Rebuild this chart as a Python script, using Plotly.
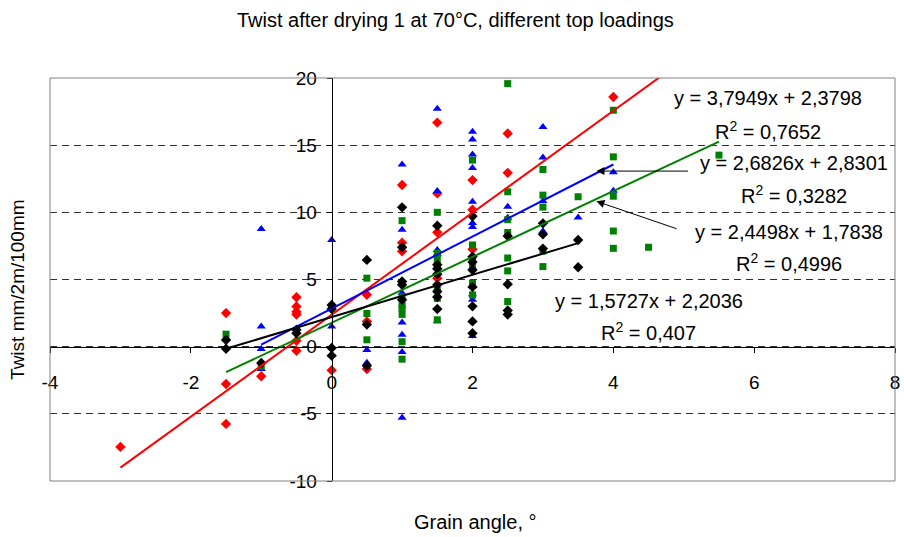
import numpy as np
import plotly.graph_objects as go

# ---------------- data ----------------
red_x = [-3, -1.5, -1.5, -1.5, -1, -0.5, -0.5, -0.5, -0.5, -0.5, -0.5, 0, 0.5, 0.5, 0.5,
         1, 1, 1, 1.5, 1.5, 1.5, 1.5, 2, 2, 2, 2.5, 2.5, 4]
red_y = [-7.46, 2.5, -2.78, -5.75, -2.2, 3.68, 2.99, 2.6, 2.4, 0.44, -0.3, -1.76, 3.86, 1.88, -1.67,
         12.03, 7.74, 7.1, 16.68, 11.41, 8.51, 5.1, 12.4, 10.2, 7.25, 15.87, 12.94, 18.59]

blue_x = [-1, -1, -1, -1, 0, 0, 0.5, 0.5, 1, 1, 1, 1, 1, 1, 1,
          1.5, 1.5, 1.5, 1.5, 1.5, 2, 2, 2, 2, 2, 2, 2, 2, 2, 2, 2,
          2.5, 2.5, 3, 3, 3, 3, 3.5, 4, 4]
blue_y = [8.76, 1.5, -0.18, -1.66, 7.94, 1.5, -0.25, -1.2, 13.56, 8.7, 4.0, 1.8, 0.88, -0.4, -5.3,
          17.72, 11.58, 7.2, 6.9, 1.9, 15.99, 15.42, 14.3, 13.3, 10.79, 9.2, 8.9, 5.9, 3.9, 3.5, 0.8,
          10.42, 9.6, 16.36, 14.08, 10.85, 8.6, 9.62, 12.99, 11.6]

green_x = [-1.5, -1, 0, 0.5, 0.5, 0.5, 1, 1, 1, 1, 1, 1, 1,
           1.5, 1.5, 1.5, 1.5, 1.5, 1.5, 1.5, 2, 2, 2, 2, 2, 2,
           2.5, 2.5, 2.5, 2.5, 2.5, 2.5, 2.5, 3, 3, 3, 3, 3, 3.5,
           4, 4, 4, 4, 4, 4.5, 5.5]
green_y = [0.93, -1.47, 2.9, 5.1, 2.47, 0.51, 9.38, 3.73, 3.1, 2.87, 2.4, 0.37, -0.93,
           10.0, 6.95, 6.6, 6.1, 4.2, 3.6, 2.0, 13.89, 7.57, 6.45, 6.0, 4.72, 3.85,
           19.58, 11.53, 9.45, 8.5, 6.6, 5.64, 3.36, 13.19, 11.28, 10.39, 7.12, 5.96, 11.16,
           17.6, 14.13, 11.2, 8.61, 7.32, 7.4, 14.26]

black_x = [-1.5, -1.5, -1, -0.5, -0.5, 0, 0, 0, 0, 0.5, 0.5, 0.5,
           1, 1, 1, 1, 1, 1.5, 1.5, 1.5, 1.5, 1.5, 1.5, 1.5, 1.5,
           2, 2, 2, 2, 2, 2, 2, 2, 2.5, 2.5, 2.5, 2.5, 3, 3, 3, 3.5, 3.5]
black_y = [0.5, -0.15, -1.22, 1.26, 1.0, 3.11, 2.8, -0.1, -0.67, 6.46, 1.65, -1.42,
           10.37, 7.4, 4.85, 4.6, 3.5, 9.0, 6.1, 5.8, 5.4, 4.6, 4.1, 3.7, 2.8,
           9.7, 6.7, 6.3, 5.71, 4.45, 3.0, 1.88, 1.0, 8.24, 4.65, 2.7, 2.4, 9.18, 8.36, 7.3, 7.94, 5.91]

trend_slope = [3.7949, 2.6826, 2.4498, 1.5727]
trend_intercept = [2.3798, 2.8301, 1.7838, 2.2036]
trend_xmin = [-3, -1, -1.5, -1.5]
trend_xmax = [5.5, 4, 5.5, 3.5]
trend_r2 = ["0,7652", "0,3282", "0,4996", "0,407"]
trend_eq = ["y = 3,7949x + 2,3798", "y = 2,6826x + 2,8301",
            "y = 2,4498x + 1,7838", "y = 1,5727x + 2,2036"]

x_ticks = [-4, -2, 0, 2, 4, 6, 8]
x_ticklabels = ["-4", "-2", "0", "2", "4", "6", "8"]
y_ticks = [-10, -5, 0, 5, 10, 15, 20]
y_ticklabels = ["-10", "-5", "0", "5", "10", "15", "20"]

colors = ["#FF0000", "#0000FF", "#008000", "#000000"]
FONT = "Liberation Sans, Arial, sans-serif"

fig = go.Figure()

series = [
    (red_x, red_y, "diamond", 8),
    (blue_x, blue_y, "triangle-up", 8),
    (green_x, green_y, "square", 7),
    (black_x, black_y, "diamond", 8),
]
for (xs, ys, sym, sz), col in zip(series, colors):
    fig.add_trace(go.Scatter(x=xs, y=ys, mode="markers",
                             marker=dict(symbol=sym, size=sz, color=col, line=dict(width=0)),
                             showlegend=False, hoverinfo="skip"))

for i, col in enumerate(colors):
    tx = np.array([trend_xmin[i], trend_xmax[i]])
    ty = trend_slope[i] * tx + trend_intercept[i]
    fig.add_trace(go.Scatter(x=tx, y=ty, mode="lines", line=dict(color=col, width=2),
                             showlegend=False, hoverinfo="skip"))

# equation labels (data coords)
eq_pos = [(6.2, 18.54), (6.56, 13.68), (6.5, 8.51), (4.5, 3.43)]
r2_pos = [(6.2, 16.11), (6.56, 11.36), (6.5, 6.26), (4.5, 1.13)]
annotations = []
for i in range(4):
    annotations.append(dict(x=eq_pos[i][0], y=eq_pos[i][1], xref="x", yref="y",
                            xanchor="center", yanchor="middle",
                            text=trend_eq[i], showarrow=False,
                            font=dict(family=FONT, size=20, color="black")))
    annotations.append(dict(x=r2_pos[i][0], y=r2_pos[i][1], xref="x", yref="y",
                            xanchor="center", yanchor="middle",
                            text="R<sup>2</sup> = " + trend_r2[i], showarrow=False,
                            font=dict(family=FONT, size=20, color="black")))

# arrows
annotations.append(dict(x=3.76, y=13.07, ax=5.08, ay=13.07, xref="x", yref="y",
                        axref="x", ayref="y", text="", showarrow=True,
                        arrowhead=2, arrowsize=1.6, arrowwidth=1, arrowcolor="black"))
annotations.append(dict(x=3.76, y=10.82, ax=4.92, ay=8.74, xref="x", yref="y",
                        axref="x", ayref="y", text="", showarrow=True,
                        arrowhead=2, arrowsize=1.6, arrowwidth=1, arrowcolor="black"))

# titles (paper coords: plot area spans px 50..900 horizontally, 78..481.5 vertically)
annotations.append(dict(x=(458 - 50) / 850, y=(481.5 - 20) / 403.5, xref="paper", yref="paper",
                        xanchor="center", yanchor="middle",
                        text="Twist after drying 1 at 70°C, different top loadings",
                        showarrow=False, font=dict(family=FONT, size=20, color="black")))
annotations.append(dict(x=(478 - 50) / 850, y=(481.5 - 523) / 403.5, xref="paper", yref="paper",
                        xanchor="center", yanchor="middle",
                        text="Grain angle, °", showarrow=False,
                        font=dict(family=FONT, size=20, color="black")))
annotations.append(dict(x=(18 - 50) / 850, y=(481.5 - 290) / 403.5, xref="paper", yref="paper",
                        xanchor="center", yanchor="middle",
                        text="Twist mm/2m/100mm", showarrow=False, textangle=-90,
                        font=dict(family=FONT, size=19, color="black")))

fig.update_layout(
    width=904, height=537,
    margin=dict(l=50, r=4, t=78, b=56),
    paper_bgcolor="white", plot_bgcolor="white",
    showlegend=False,
    annotations=annotations,
    font=dict(family=FONT, size=19, color="black"),
    xaxis=dict(range=[-4, 8], tickmode="array", tickvals=x_ticks, ticktext=x_ticklabels,
               showgrid=False, zeroline=False,
               anchor="free", position=1 / 3, showline=True, linecolor="black", linewidth=1,
               ticks="outside", ticklen=5, tickcolor="black", ticklabelstandoff=14,
               ticklabeloverflow="allow",
               tickfont=dict(family=FONT, size=19, color="black")),
    yaxis=dict(range=[-10, 20], tickmode="array", tickvals=y_ticks, ticktext=y_ticklabels,
               showgrid=True, gridcolor="#303030",
               griddash="7px,5px", gridwidth=1, zeroline=False,
               anchor="free", position=1 / 3, showline=True, linecolor="black", linewidth=1,
               ticks="outside", ticklen=5, tickcolor="black", ticklabelstandoff=6,
               ticklabeloverflow="allow",
               tickfont=dict(family=FONT, size=19, color="black")),
    shapes=[dict(type="rect", xref="paper", yref="paper", x0=0, y0=0, x1=1, y1=1,
                 line=dict(color="#808080", width=1), layer="above")],
)

fig.write_html("out.html")
